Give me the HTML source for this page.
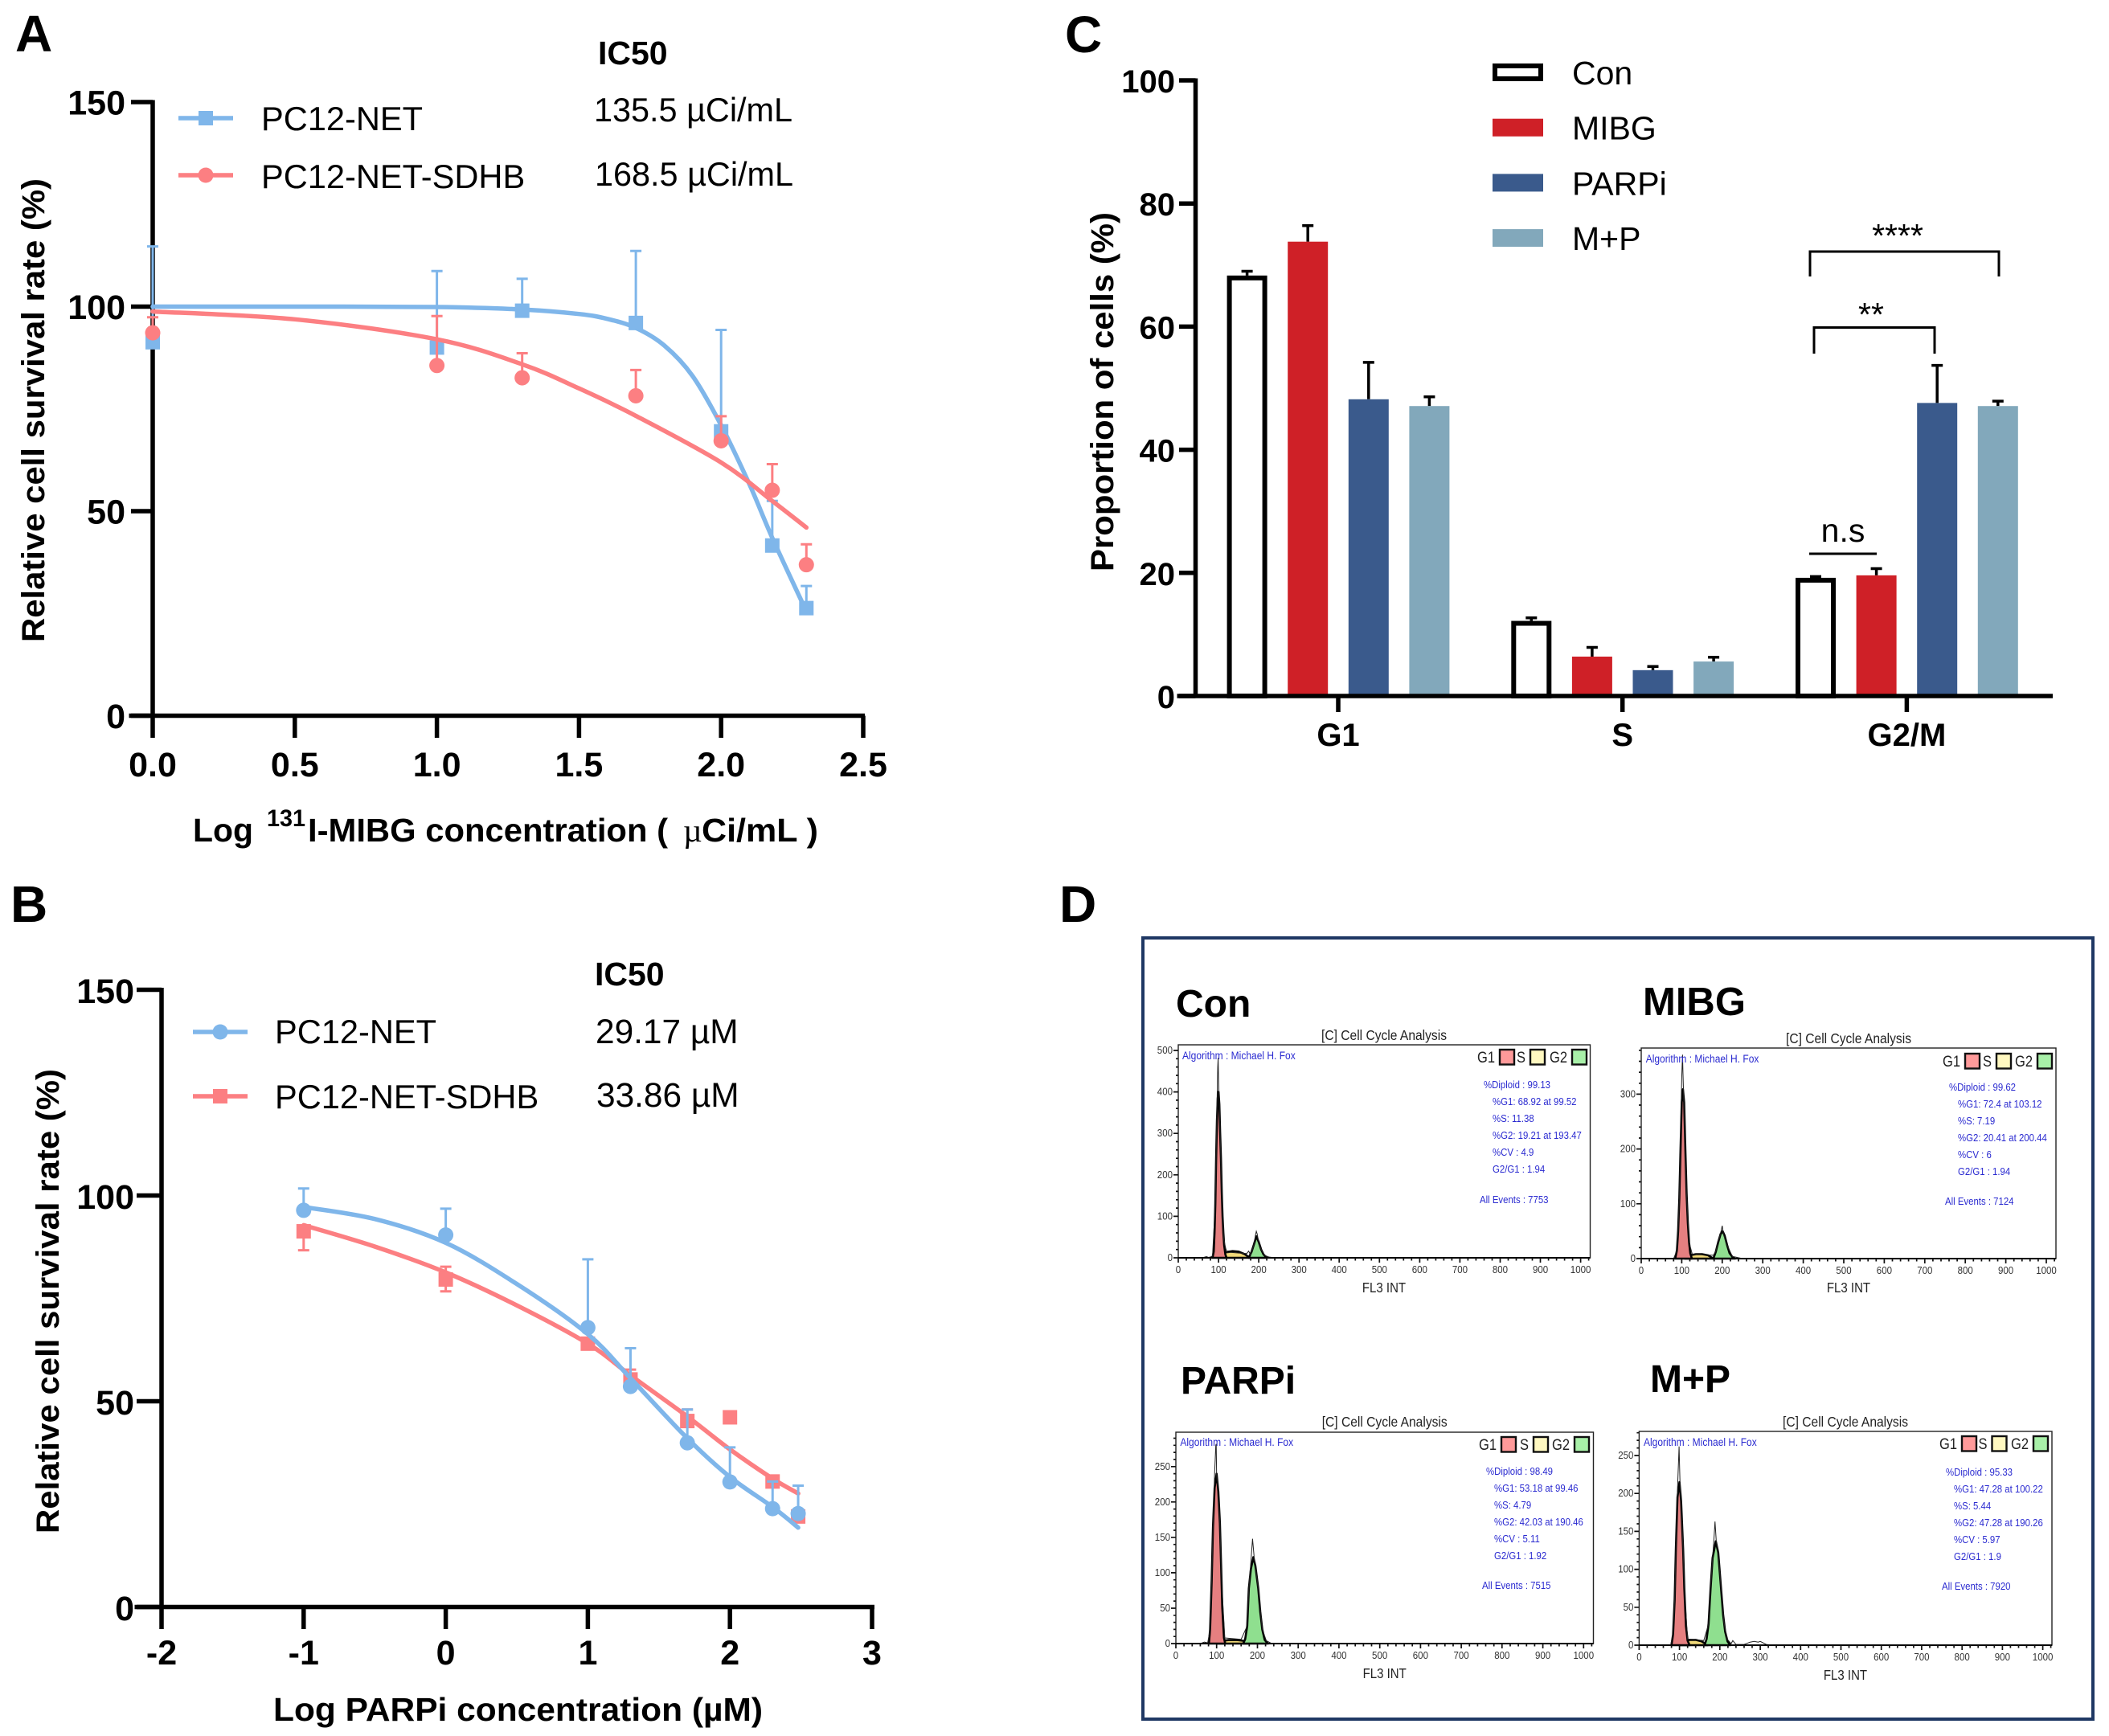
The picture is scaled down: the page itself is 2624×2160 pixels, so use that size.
<!DOCTYPE html>
<html lang="en">
<head>
<meta charset="utf-8">
<title>Cell survival and cell cycle analysis figure</title>
<style>
html,body{margin:0;padding:0;background:#fff;width:2624px;height:2160px;overflow:hidden}
svg{display:block}
text{font-family:"Liberation Sans",Arial,sans-serif}
</style>
</head>
<body>
<svg id="figure" xmlns="http://www.w3.org/2000/svg" width="2624" height="2160" viewBox="0 0 2624 2160">
  <rect x="0" y="0" width="2624" height="2160" fill="#fff"/>
  <text x="19" y="64" font-size="64" font-weight="700">A</text>
  <text x="13" y="1147" font-size="64" font-weight="700">B</text>
  <text x="1325" y="65" font-size="64" font-weight="700">C</text>
  <text x="1318" y="1147" font-size="64" font-weight="700">D</text>

  <g id="panel-a">
    <text transform="translate(55,799) rotate(-90)" font-size="40" font-weight="700" textLength="577" lengthAdjust="spacingAndGlyphs">Relative cell survival rate (%)</text>
    <text x="240" y="1047" font-size="41" font-weight="700" textLength="75" lengthAdjust="spacingAndGlyphs">Log</text>
    <text x="332" y="1028" font-size="30" font-weight="700" textLength="48" lengthAdjust="spacingAndGlyphs">131</text>
    <text x="383" y="1047" font-size="41" font-weight="700" textLength="448" lengthAdjust="spacingAndGlyphs">I-MIBG concentration (</text>
    <text x="850" y="1047" font-size="41" style="font-family:'Liberation Serif',serif">µ</text>
    <text x="873" y="1047" font-size="41" font-weight="700" textLength="145" lengthAdjust="spacingAndGlyphs">Ci/mL )</text>
    <text x="744" y="80" font-size="41" font-weight="700">IC50</text>
    <text x="739" y="151" font-size="41.4">135.5 µCi/mL</text>
    <text x="740" y="231" font-size="41.4">168.5 µCi/mL</text>
    <text x="325" y="162" font-size="41.6">PC12-NET</text>
    <text x="325" y="234" font-size="41.6">PC12-NET-SDHB</text>
  </g>

  <g id="panel-b">
    <text transform="translate(73,1908) rotate(-90)" font-size="40" font-weight="700" textLength="578" lengthAdjust="spacingAndGlyphs">Relative cell survival rate (%)</text>
    <text x="340" y="2141" font-size="41" font-weight="700" textLength="609" lengthAdjust="spacingAndGlyphs">Log PARPi concentration (µM)</text>
    <text x="740" y="1226" font-size="41" font-weight="700">IC50</text>
    <text x="741" y="1298" font-size="42.4">29.17 µM</text>
    <text x="742" y="1377" font-size="42.4">33.86 µM</text>
    <text x="342" y="1298" font-size="41.6">PC12-NET</text>
    <text x="342" y="1379" font-size="41.6">PC12-NET-SDHB</text>
  </g>

  <g id="panel-c">
    <text transform="translate(1385,711) rotate(-90)" font-size="40" font-weight="700" textLength="447" lengthAdjust="spacingAndGlyphs">Proportion of cells (%)</text>
    <text x="2361" y="307" text-anchor="middle" font-size="41">****</text>
    <text x="2328" y="405" text-anchor="middle" font-size="41">**</text>
    <text x="2293" y="674" text-anchor="middle" font-size="41">n.s</text>
    <path d="M2252 344V313H2487V344" fill="none" stroke="#000" stroke-width="3"/>
    <path d="M2257 440V407.5H2407V440" fill="none" stroke="#000" stroke-width="3"/>
    <path d="M2251 689H2335" fill="none" stroke="#000" stroke-width="3"/>
  </g>

  <g id="panel-d">
    <rect x="1422" y="1167" width="1182" height="972" fill="none" stroke="#1f3864" stroke-width="4"/>
    <text x="1463" y="1265" font-size="48" font-weight="700">Con</text>
    <text x="2044" y="1263" font-size="49" font-weight="700">MIBG</text>
    <text x="1469" y="1734" font-size="48" font-weight="700">PARPi</text>
    <text x="2053" y="1732" font-size="48" font-weight="700">M+P</text>
  </g>
</svg>

<script>
/* ---------- Panel A data ---------- */
const aDoses = [0, 1, 1.3, 1.7, 2, 2.18, 2.3];
const aNetMeans = [91.3, 90, 99, 96, 69.5, 41.6, 26.3];
const aNetTops = [114.7, 108.7, 106.8, 113.6, 94.3, 52.5, 31.7];
const aSdhbMeans = [93.6, 85.6, 82.6, 78.2, 67.2, 55.1, 36.9];
const aSdhbTops = [97.4, 97.7, 88.6, 84.5, 73.2, 61.5, 41.9];
const aNetCurveX = [0, 0.5, 1, 1.3, 1.5, 1.6, 1.7, 1.8, 1.9, 2, 2.1, 2.18, 2.3];
const aNetCurveY = [100, 100, 99.9, 99.3, 98.2, 97, 94.8, 90.5, 83, 71, 56.5, 43.5, 25.5];
const aSdhbCurveX = [0, 0.5, 1, 1.3, 1.5, 1.7, 2, 2.18, 2.3];
const aSdhbCurveY = [98.8, 96.9, 92, 85.9, 80, 73.3, 61.9, 52.5, 46];
const aYTicks = [0, 50, 100, 150];
const aXTicks = [0, 0.5, 1, 1.5, 2, 2.5];
const aXTickLabels = ['0.0', '0.5', '1.0', '1.5', '2.0', '2.5'];

/* ---------- Panel B data ---------- */
const bDoses = [-1, 0, 1, 1.3, 1.7, 2, 2.3, 2.48];
const bNetMeans = [96.4, 90.4, 67.9, 53.6, 39.9, 30.4, 23.9, 22.7];
const bNetTops = [101.7, 96.8, 84.5, 62.9, 48, 38.8, 30.5, 29.5];
const bSdhbMeans = [91.3, 79.6, 64, 55.3, 45.2, 46.1, 30.5, 22];
const bSdhbTops = [91.3, 82.7, 64, 57.7, 48, 46.1, 30.5, 22];
const bSdhbBottoms = [86.7, 76.7, 64, 55.3, 45.2, 46.1, 30.5, 22];
const bNetCurveX = [-1, -0.5, 0, 0.5, 1, 1.3, 1.7, 2, 2.3, 2.48];
const bNetCurveY = [97.2, 94.3, 88.5, 78.5, 66.3, 55.6, 41, 31.6, 24.3, 19.3];
const bSdhbCurveX = [-1, -0.5, 0, 0.5, 1, 1.3, 1.7, 2, 2.3, 2.48];
const bSdhbCurveY = [92.8, 87.6, 81.3, 73.3, 64, 56.3, 46.3, 38.3, 31.2, 27.6];
const bYTicks = [0, 50, 100, 150];
const bXTicks = [-2, -1, 0, 1, 2, 3];

/* ---------- Panel C data ---------- */
const cCategories = ['G1', 'S', 'G2/M'];
const cSeriesNames = ['Con', 'MIBG', 'PARPi', 'M+P'];
const cConValues = [68.3, 12.2, 19.2];
const cMibgValues = [73.8, 6.4, 19.6];
const cParpiValues = [48.2, 4.2, 47.6];
const cMpValues = [47.1, 5.6, 47.1];
const cConTops = [69, 12.7, 19.4];
const cMibgTops = [76.4, 7.9, 20.7];
const cParpiTops = [54.2, 4.8, 53.7];
const cMpTops = [48.6, 6.3, 47.9];
const cYTicks = [0, 20, 40, 60, 80, 100];

/* ---------- Panel D data: FL3 INT channel vs. counts ---------- */
const histXTicks = [0, 100, 200, 300, 400, 500, 600, 700, 800, 900, 1000];

const conG1X = [85, 88, 90, 92, 94, 96, 98, 100, 102, 104, 106, 108, 110, 112, 114, 117, 120];
const conG1Y = [0, 15, 60, 130, 240, 330, 385, 400, 370, 300, 240, 160, 100, 60, 30, 8, 0];
const conSX = [100, 110, 120, 135, 150, 165, 178];
const conSY = [0, 9, 14, 16, 15, 9, 0];
const conG2X = [175, 182, 188, 194, 200, 206, 212, 220];
const conG2Y = [0, 14, 32, 52, 38, 20, 8, 0];
const conRawX = [60, 70, 75, 80, 85, 92, 94, 96, 98, 99, 100, 102, 104, 108, 113, 118, 122, 130, 170, 175, 180, 188, 192, 194, 196, 200, 206, 214, 225, 240];
const conRawY = [0, 3, 1, 2, 4, 130, 240, 360, 460, 482, 430, 370, 300, 160, 45, 22, 12, 13, 10, 16, 6, 32, 55, 64, 58, 38, 20, 6, 2, 0];
const conYTicks = [0, 100, 200, 300, 400, 500];
const conStats = ['%Diploid : 99.13', '%G1: 68.92 at 99.52', '%S: 11.38', '%G2: 19.21 at 193.47', '%CV : 4.9', 'G2/G1 : 1.94', 'All Events : 7753'];

const mibgG1X = [84, 88, 91, 94, 97, 100, 103, 106, 109, 112, 115, 118, 121, 125];
const mibgG1Y = [0, 15, 50, 110, 200, 285, 309, 285, 200, 120, 65, 30, 10, 0];
const mibgSX = [108, 120, 135, 150, 165, 178];
const mibgSY = [0, 6, 8, 8, 6, 0];
const mibgG2X = [178, 184, 190, 196, 201, 206, 212, 218, 226, 232];
const mibgG2Y = [0, 12, 30, 45, 50, 42, 25, 10, 2, 0];
const mibgRawX = [80, 88, 91, 94, 97, 100, 102, 103, 105, 109, 112, 118, 126, 178, 184, 190, 197, 200, 203, 212, 225, 250];
const mibgRawY = [0, 15, 50, 110, 220, 330, 372, 340, 290, 200, 120, 30, 8, 6, 13, 30, 50, 60, 44, 25, 4, 0];
const mibgYTicks = [0, 100, 200, 300];
const mibgStats = ['%Diploid : 99.62', '%G1: 72.4 at 103.12', '%S: 7.19', '%G2: 20.41 at 200.44', '%CV : 6', 'G2/G1 : 1.94', 'All Events : 7124'];

const parpiG1X = [81, 84, 88, 91, 95, 100, 104, 108, 111, 114, 118, 121];
const parpiG1Y = [0, 20, 90, 165, 220, 240, 215, 170, 110, 50, 8, 0];
const parpiSX = [103, 115, 130, 150, 165, 178];
const parpiSY = [0, 4, 5, 5, 4, 0];
const parpiG2X = [165, 170, 175, 179, 184, 190, 195, 202, 207, 212, 218, 226];
const parpiG2Y = [0, 6, 25, 78, 105, 122, 110, 78, 45, 20, 5, 0];
const parpiRawX = [60, 70, 78, 84, 88, 91, 95, 98, 99, 100, 104, 108, 112, 120, 160, 175, 179, 184, 188, 192, 196, 202, 212, 222, 235];
const parpiRawY = [0, 2, 1, 20, 90, 165, 240, 280, 282, 238, 215, 170, 90, 8, 6, 25, 78, 115, 148, 122, 105, 78, 20, 4, 0];
const parpiYTicks = [0, 50, 100, 150, 200, 250];
const parpiStats = ['%Diploid : 98.49', '%G1: 53.18 at 99.46', '%S: 4.79', '%G2: 42.03 at 190.46', '%CV : 5.11', 'G2/G1 : 1.92', 'All Events : 7515'];

const mpG1X = [80, 84, 88, 91, 95, 100, 104, 109, 112, 116, 120, 125];
const mpG1Y = [0, 14, 60, 127, 195, 215, 190, 127, 75, 25, 6, 0];
const mpSX = [100, 112, 125, 140, 155, 170];
const mpSY = [0, 6, 7, 7, 5, 0];
const mpG2X = [162, 167, 172, 177, 182, 190, 196, 203, 208, 213, 219, 226];
const mpG2Y = [0, 8, 28, 75, 115, 137, 122, 75, 40, 18, 5, 0];
const mpRawX = [78, 84, 88, 91, 95, 99, 100, 102, 104, 109, 112, 120, 160, 172, 177, 182, 186, 188, 191, 196, 203, 210, 218, 228, 232, 240, 260, 275, 285, 295, 300, 315, 330];
const mpRawY = [0, 14, 60, 127, 205, 262, 240, 200, 190, 127, 75, 8, 6, 28, 75, 115, 145, 163, 138, 122, 75, 30, 8, 2, 6, 1, 1, 4, 5, 4, 5, 1, 0];
const mpYTicks = [0, 50, 100, 150, 200, 250];
const mpStats = ['%Diploid : 95.33', '%G1: 47.28 at 100.22', '%S: 5.44', '%G2: 47.28 at 190.26', '%CV : 5.97', 'G2/G1 : 1.9', 'All Events : 7920'];

/* ---------- Drawing helpers ---------- */
const NS = 'http://www.w3.org/2000/svg';
const BLUE = '#7fb6ea';
const RED = '#fc7f82';

function mk(tag, attrs, parent, content) {
  const node = document.createElementNS(NS, tag);
  for (const key in attrs) node.setAttribute(key, attrs[key]);
  if (content !== undefined) node.textContent = content;
  parent.appendChild(node);
  return node;
}

/* Keep the measured width at the base size but draw taller, condensed glyphs. */
function condense(node, tallSize) {
  const width = node.getComputedTextLength();
  node.setAttribute('font-size', tallSize);
  node.setAttribute('textLength', width.toFixed(1));
  node.setAttribute('lengthAdjust', 'spacingAndGlyphs');
}

function smoothPath(xs, ys, sx, sy) {
  const p = xs.map((v, i) => [sx(v), sy(ys[i])]);
  let d = 'M' + p[0][0].toFixed(1) + ' ' + p[0][1].toFixed(1);
  for (let i = 0; i < p.length - 1; i++) {
    const a = p[Math.max(0, i - 1)], b = p[i], c = p[i + 1], e = p[Math.min(p.length - 1, i + 2)];
    const c1x = b[0] + (c[0] - a[0]) / 6, c1y = b[1] + (c[1] - a[1]) / 6;
    const c2x = c[0] - (e[0] - b[0]) / 6, c2y = c[1] - (e[1] - b[1]) / 6;
    d += 'C' + [c1x, c1y, c2x, c2y, c[0], c[1]].map(n => n.toFixed(1)).join(' ');
  }
  return d;
}

function drawMarker(parent, kind, cx, cy, color) {
  let m;
  if (kind === 'square') {
    m = mk('rect', { x: cx - 9, y: cy - 9, width: 18, height: 18, fill: color }, parent);
  } else {
    m = mk('circle', { cx: cx, cy: cy, r: 9.5, fill: color }, parent);
  }
  
  
}

function drawSeries(parent, sx, sy, doses, means, tops, bottoms, curveX, curveY, kind, color) {
  const group = mk('g', {}, parent);
  
  
  doses.forEach((dose, i) => {
    const x = sx(dose), top = sy(tops[i]), bottom = sy(bottoms ? bottoms[i] : means[i]);
    if (Math.abs(top - bottom) < 0.5) return;
    const bar = mk('path', { d: 'M' + x + ' ' + bottom + 'V' + top + (tops[i] > means[i] ? 'M' + (x - 7) + ' ' + top + 'H' + (x + 7) : '') + (bottoms && bottoms[i] < means[i] ? 'M' + (x - 7) + ' ' + bottom + 'H' + (x + 7) : ''), stroke: color, 'stroke-width': 3, fill: 'none' }, group);
    
    
  });
  const curve = mk('path', { d: smoothPath(curveX, curveY, sx, sy), stroke: color, 'stroke-width': 5.5, fill: 'none', 'stroke-linecap': 'round' }, group);
  
  
  doses.forEach((dose, i) => drawMarker(group, kind, sx(dose), sy(means[i]), color));
}

function drawAxes(parent, cfg) {
  const g = mk('g', {}, parent);
  
  
  const style = { stroke: '#000', 'stroke-width': 5.5, fill: 'none' };
  const yLine = mk('path', Object.assign({ d: 'M' + cfg.originX + ' ' + (cfg.sy(cfg.yTicks[cfg.yTicks.length - 1]) - 2.5) + 'V' + (cfg.axisY + 2.5) }, style), g);
  
  
  const xLine = mk('path', Object.assign({ d: 'M' + (cfg.xStart - 2.5) + ' ' + cfg.axisY + 'H' + cfg.xEnd }, style), g);
  
  
  cfg.yTicks.forEach((v, i) => {
    const y = cfg.sy(v);
    const t = mk('path', Object.assign({ d: 'M' + cfg.yTickX + ' ' + y + 'H' + cfg.originX }, style), g);
    
    
    const lab = mk('text', { x: cfg.yLabelX, y: y + cfg.yLabelDy, 'text-anchor': 'end', 'font-size': cfg.fontSize, 'font-weight': 700 }, g, String(v));
    
    
  });
  cfg.xTicks.forEach((v, i) => {
    const x = cfg.sx(v);
    const t = mk('path', Object.assign({ d: 'M' + x + ' ' + cfg.axisY + 'V' + cfg.xTickEnd }, style), g);
    
    
    const lab = mk('text', { x: x, y: cfg.xLabelY, 'text-anchor': 'middle', 'font-size': cfg.fontSize, 'font-weight': 700 }, g, String(cfg.xLabels[i]));
    
    
  });
}

function drawLegendKey(parent, x1, x2, y, kind, color) {
  const line = mk('path', { d: 'M' + x1 + ' ' + y + 'H' + x2, stroke: color, 'stroke-width': 5.5, fill: 'none' }, parent);
  
  
  drawMarker(parent, kind, (x1 + x2) / 2, y, color);
}

/* ---------- Panel A ---------- */
const panelA = document.getElementById('panel-a');
const xScaleA = v => 190 + v * 353.6;
const yScaleA = v => 890.5 - v * 5.09;
drawAxes(panelA, { sx: xScaleA, sy: yScaleA, yTicks: aYTicks, xTicks: aXTicks, xLabels: aXTickLabels, originX: 190, axisY: 890.5, xStart: 163, xEnd: 1076, yTickX: 163, yLabelX: 156, yLabelDy: 15.5, xTickEnd: 918, xLabelY: 966, fontSize: 43 });
drawSeries(panelA, xScaleA, yScaleA, aDoses, aNetMeans, aNetTops, null, aNetCurveX, aNetCurveY, 'square', BLUE);
drawSeries(panelA, xScaleA, yScaleA, aDoses, aSdhbMeans, aSdhbTops, null, aSdhbCurveX, aSdhbCurveY, 'circle', RED);
drawLegendKey(panelA, 222, 290, 147, 'square', BLUE);
drawLegendKey(panelA, 222, 290, 218, 'circle', RED);

/* ---------- Panel B ---------- */
const panelB = document.getElementById('panel-b');
const xScaleB = v => 201 + (v + 2) * 176.8;
const yScaleB = v => 1999.5 - v * 5.12;
drawAxes(panelB, { sx: xScaleB, sy: yScaleB, yTicks: bYTicks, xTicks: bXTicks, xLabels: bXTicks, originX: 201, axisY: 1999.5, xStart: 170, xEnd: 1088, yTickX: 170, yLabelX: 167, yLabelDy: 16.5, xTickEnd: 2027, xLabelY: 2071, fontSize: 43 });
drawSeries(panelB, xScaleB, yScaleB, bDoses, bSdhbMeans, bSdhbTops, bSdhbBottoms, bSdhbCurveX, bSdhbCurveY, 'square', RED);
drawSeries(panelB, xScaleB, yScaleB, bDoses, bNetMeans, bNetTops, null, bNetCurveX, bNetCurveY, 'circle', BLUE);
drawLegendKey(panelB, 240, 308, 1284, 'circle', BLUE);
drawLegendKey(panelB, 240, 308, 1364, 'square', RED);

/* ---------- Panel C ---------- */
const panelC = document.getElementById('panel-c');
const yScaleC = v => 866 - v * 7.66;
const groupCentre = i => 1665 + i * 353.7;
const barCentre = (g, s) => groupCentre(g) + (s - 1.5) * 75.6;
const barFills = ['#fff', '#cf2027', '#3a5a8c', '#82a8bb'];
const seriesValues = [cConValues, cMibgValues, cParpiValues, cMpValues];
const seriesTops = [cConTops, cMibgTops, cParpiTops, cMpTops];
const xTickPositions = cCategories.map((c, i) => i);
seriesValues.forEach((values, s) => {
  values.forEach((value, g) => {
    const cx = barCentre(g, s), top = yScaleC(value), errTop = yScaleC(seriesTops[s][g]);
    const err = mk('path', { d: 'M' + cx + ' ' + top + 'V' + errTop + 'M' + (cx - 7) + ' ' + errTop + 'H' + (cx + 7), stroke: '#000', 'stroke-width': 3.5, fill: 'none' }, panelC);
    
    
    const attrs = s === 0
      ? { x: cx - 22, y: top + 3, width: 44, height: Math.max(0, 866 - top - 3), fill: '#fff', stroke: '#000', 'stroke-width': 6 }
      : { x: cx - 25, y: top, width: 50, height: Math.max(0, 866 - top), fill: barFills[s] };
    const bar = mk('rect', attrs, panelC);
    
    
  });
});
drawAxes(panelC, { sx: i => groupCentre(i), sy: yScaleC, yTicks: cYTicks, xTicks: xTickPositions, xLabels: cCategories, originX: 1487.5, axisY: 866, xStart: 1467, xEnd: 2554, yTickX: 1467, yLabelX: 1462, yLabelDy: 15, xTickEnd: 886, xLabelY: 928, fontSize: 40 });
cSeriesNames.forEach((name, s) => {
  const ky = 79 + s * 68.7;
  const attrs = s === 0
    ? { x: 1860, y: ky + 3, width: 57, height: 16, fill: '#fff', stroke: '#000', 'stroke-width': 6 }
    : { x: 1857, y: ky, width: 63, height: 22, fill: barFills[s] };
  const key = mk('rect', attrs, panelC);
  
  
  const label = mk('text', { x: 1956, y: ky + 26, 'font-size': 41 }, panelC, name);
  
  
});

/* ---------- Panel D ---------- */
const panelD = document.getElementById('panel-d');

function areaPath(xs, ys, sx, sy) {
  return 'M' + sx(xs[0]) + ' ' + sy(0) + xs.map((v, i) => 'L' + sx(v).toFixed(1) + ' ' + sy(ys[i]).toFixed(1)).join('') + 'L' + sx(xs[xs.length - 1]) + ' ' + sy(0) + 'Z';
}

function drawHistogram(layout, series, yTicks, stats) {
  const g = mk('g', {}, panelD);
  
  
  const sx = v => layout.x0 + v * layout.xPerUnit;
  const sy = v => layout.y0 - v * layout.yPerUnit;

  const fills = [['#f0d878', series.sX, series.sY], ['#e57f80', series.g1X, series.g1Y], ['#8fdf8f', series.g2X, series.g2Y]];
  fills.forEach(f => {
    const a = mk('path', { d: areaPath(f[1], f[2], sx, sy), fill: f[0], stroke: '#000', 'stroke-width': 2.6, 'stroke-linejoin': 'round' }, g);
    
    
  });
  const raw = mk('polyline', { points: series.rawX.map((v, i) => sx(v).toFixed(1) + ',' + sy(series.rawY[i]).toFixed(1)).join(' '), fill: 'none', stroke: '#222', 'stroke-width': 1 }, g);
  
  

  const frame = mk('rect', { x: layout.x0, y: layout.yTop, width: layout.xRight - layout.x0, height: layout.y0 - layout.yTop, fill: 'none', stroke: '#222', 'stroke-width': 1.4 }, g);
  
  
  const base = mk('path', { d: 'M' + layout.x0 + ' ' + layout.y0 + 'H' + layout.xRight, stroke: '#000', 'stroke-width': 2, fill: 'none' }, g);
  
  

  let minor = '';
  for (let v = 0; v <= 1020; v += 20) minor += 'M' + sx(v).toFixed(1) + ' ' + layout.y0 + 'v' + (v % 100 === 0 ? 6 : 3.5);
  const stepY = yTicks[1] - yTicks[0];
  const minorStep = stepY / 5;
  for (let v = 0; sy(v) >= layout.yTop; v += minorStep) {
    const major = Math.abs(v % stepY) < 0.001;
    minor += 'M' + layout.x0 + ' ' + sy(v).toFixed(1) + 'h' + (major ? -6 : -3);
  }
  const tickPath = mk('path', { d: minor, stroke: '#111', 'stroke-width': 1.7, fill: 'none' }, g);
  
  

  histXTicks.forEach(v => {
    const t = mk('text', { x: sx(v), y: layout.y0 + 19, 'text-anchor': 'middle', 'font-size': 11.5, fill: '#333' }, g, String(v));
    
    
    condense(t, 12.5);
  });
  yTicks.forEach(v => {
    const t = mk('text', { x: layout.x0 - 7, y: sy(v) + 4, 'text-anchor': 'end', 'font-size': 11.5, fill: '#333' }, g, String(v));
    
    
    condense(t, 12.5);
  });

  const title = mk('text', { x: layout.titleX, y: layout.titleY, 'text-anchor': 'middle', 'font-size': 15.6, fill: '#222' }, g, '[C] Cell Cycle Analysis');
  
  
  condense(title, 17.5);
  const axisTitle = mk('text', { x: layout.titleX, y: layout.axisTitleY, 'text-anchor': 'middle', 'font-size': 15, fill: '#222' }, g, 'FL3 INT');
  
  
  condense(axisTitle, 17.5);
  const algo = mk('text', { x: layout.algoX, y: layout.algoY, 'font-size': 12, fill: '#2a2ad0' }, g, 'Algorithm : Michael H. Fox');
  
  
  condense(algo, 13.5);

  ['G1', 'S', 'G2'].forEach((name, i) => {
    const boxColors = ['#ff9a9a', '#fff8c0', '#a8f0a8'];
    const label = mk('text', { x: layout.keyBoxes[i] - 5, y: layout.keyY + 17, 'text-anchor': 'end', 'font-size': 16.5, fill: '#222' }, g, name);
    
    
    condense(label, 19);
    const box = mk('rect', { x: layout.keyBoxes[i] + 1, y: layout.keyY + 1, width: 18, height: 18.5, fill: boxColors[i], stroke: '#111', 'stroke-width': 2.4 }, g);
    
    
  });

  stats.forEach((line, i) => {
    const x = i === 0 ? layout.statX1 : i === 6 ? layout.statX3 : layout.statX2;
    const y = i === 6 ? layout.statEndY : layout.statY + i * 21;
    const t = mk('text', { x: x, y: y, 'font-size': 11.4, fill: '#2a2ad0' }, g, line);
    
    
    condense(t, 13);
  });
}

drawHistogram(
  { x0: 1466, xPerUnit: 0.5006, xRight: 1978.5, y0: 1565, yPerUnit: 0.516, yTop: 1300, titleX: 1722, titleY: 1294, axisTitleY: 1608, algoX: 1471, algoY: 1318, keyBoxes: [1865, 1903, 1955], keyY: 1305, statX1: 1846, statX2: 1857, statX3: 1841, statY: 1354, statEndY: 1497 },
  { g1X: conG1X, g1Y: conG1Y, sX: conSX, sY: conSY, g2X: conG2X, g2Y: conG2Y, rawX: conRawX, rawY: conRawY },
  conYTicks, conStats);
drawHistogram(
  { x0: 2042, xPerUnit: 0.504, xRight: 2558, y0: 1566, yPerUnit: 0.682, yTop: 1304, titleX: 2300, titleY: 1298, axisTitleY: 1608, algoX: 2047.7, algoY: 1322, keyBoxes: [2444, 2483, 2534], keyY: 1310, statX1: 2425, statX2: 2436, statX3: 2420, statY: 1357, statEndY: 1499 },
  { g1X: mibgG1X, g1Y: mibgG1Y, sX: mibgSX, sY: mibgSY, g2X: mibgG2X, g2Y: mibgG2Y, rawX: mibgRawX, rawY: mibgRawY },
  mibgYTicks, mibgStats);
drawHistogram(
  { x0: 1463, xPerUnit: 0.5073, xRight: 1982.5, y0: 2045, yPerUnit: 0.881, yTop: 1782, titleX: 1722.7, titleY: 1775, axisTitleY: 2088, algoX: 1468.4, algoY: 1799, keyBoxes: [1867, 1907, 1958], keyY: 1787, statX1: 1849, statX2: 1859, statX3: 1844, statY: 1835, statEndY: 1977 },
  { g1X: parpiG1X, g1Y: parpiG1Y, sX: parpiSX, sY: parpiSY, g2X: parpiG2X, g2Y: parpiG2Y, rawX: parpiRawX, rawY: parpiRawY },
  parpiYTicks, parpiStats);
drawHistogram(
  { x0: 2039.4, xPerUnit: 0.5022, xRight: 2553, y0: 2047, yPerUnit: 0.944, yTop: 1781, titleX: 2296, titleY: 1775, axisTitleY: 2090, algoX: 2045, algoY: 1799, keyBoxes: [2440, 2477.5, 2529], keyY: 1786, statX1: 2421, statX2: 2431, statX3: 2416, statY: 1836, statEndY: 1978 },
  { g1X: mpG1X, g1Y: mpG1Y, sX: mpSX, sY: mpSY, g2X: mpG2X, g2Y: mpG2Y, rawX: mpRawX, rawY: mpRawY },
  mpYTicks, mpStats);
</script>
</body>
</html>
